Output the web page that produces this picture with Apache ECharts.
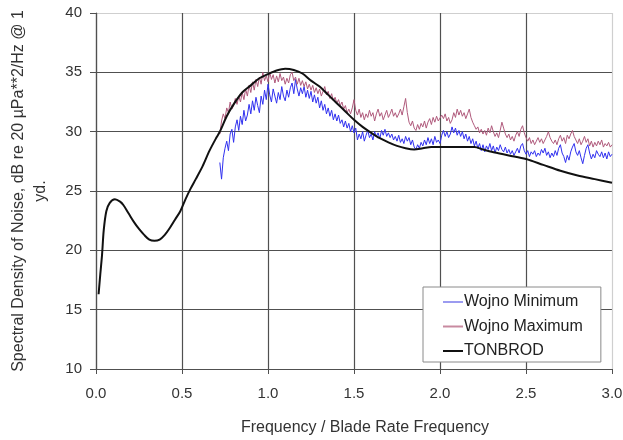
<!DOCTYPE html>
<html><head><meta charset="utf-8">
<script src="https://cdn.jsdelivr.net/npm/echarts@6/dist/echarts.min.js"></script>
<style>html,body{margin:0;padding:0;background:#fff}#c{width:623px;height:440px}</style>
</head><body><div id="c"></div>
<script>
// Wojno noise data: x from 0.72 to 3.00, step 0.01
const noiseStart = 0.72, noiseStep = 0.01;
const wojnoMin = [
27.4,26.0,27.8,28.6,29.2,28.4,29.8,30.2,29.1,30.4,
31.0,30.1,31.3,30.6,31.8,30.9,31.4,32.3,31.5,32.6,
31.8,32.9,32.2,31.6,33.0,32.3,33.5,32.7,34.0,33.1,
32.5,33.6,33.0,32.4,33.3,32.7,33.8,33.0,32.6,33.5,
32.9,33.7,34.1,33.2,34.4,33.6,33.0,33.7,33.2,33.8,
32.9,33.5,32.8,33.4,32.5,33.1,32.4,32.9,32.0,32.6,
31.8,32.3,31.5,32.0,31.3,31.8,31.0,31.5,30.9,31.4,
30.7,31.0,30.4,30.9,30.3,30.7,30.0,30.5,29.9,30.3,
29.3,29.8,29.4,30.0,29.2,29.7,30.1,29.5,29.8,29.3,
30.0,29.6,29.9,29.4,30.1,29.7,30.2,29.6,29.9,29.5,
29.8,29.3,29.6,29.2,29.7,29.1,29.4,29.0,29.6,29.2,
29.5,28.9,29.3,28.7,28.5,28.9,28.6,29.1,28.8,29.3,
28.9,29.5,29.0,29.4,28.9,29.6,29.1,29.3,29.0,29.7,
30.1,29.6,30.0,29.5,29.8,30.4,29.9,30.3,29.7,30.1,
29.6,30.0,29.4,29.8,29.2,29.6,29.0,29.4,28.8,29.2,
28.6,29.0,28.4,28.9,28.3,28.8,28.5,29.0,28.4,28.8,
28.2,28.7,28.4,28.9,28.5,28.3,28.7,28.2,28.5,28.1,
28.4,28.0,28.3,28.6,28.2,28.8,29.0,28.4,28.1,28.4,
27.9,28.3,28.1,28.4,27.9,28.2,28.0,28.5,28.2,28.6,
28.0,28.3,27.8,28.2,27.9,28.4,28.0,28.6,28.9,28.2,
27.9,27.4,28.0,27.6,28.3,28.7,29.0,28.3,28.0,28.4,
27.8,27.3,28.0,28.6,28.9,28.2,27.7,28.1,27.8,28.4,
28.1,27.9,28.3,27.8,28.2,27.7,28.3,27.9,28.1];
const wojnoMax = [
29.8,30.9,31.5,31.1,32.0,31.6,32.5,31.9,32.2,32.8,
32.3,33.0,32.5,33.3,32.7,33.6,33.0,33.9,33.3,34.2,
33.5,34.4,33.8,34.6,34.0,35.0,34.3,34.7,34.2,35.0,
34.4,34.8,34.1,34.7,34.2,34.9,34.3,34.6,34.0,34.5,
34.1,34.8,35.0,34.3,34.6,34.0,34.5,33.9,34.3,33.8,
34.2,33.6,34.0,33.5,33.9,33.3,33.7,33.2,33.6,33.0,
33.4,33.8,33.1,33.4,32.8,33.2,32.6,32.9,32.4,32.7,
32.2,32.5,31.9,32.2,31.6,31.9,31.5,32.0,32.7,31.8,
31.4,31.9,31.2,31.6,31.0,31.5,31.2,31.8,31.3,31.6,
30.9,31.5,31.9,31.3,31.6,31.0,31.4,31.8,31.2,31.5,
31.9,31.3,31.6,31.2,31.5,31.9,31.4,32.1,32.8,31.6,
30.8,30.5,30.9,30.3,30.1,30.6,30.2,30.7,30.4,30.9,
30.3,30.8,31.1,30.6,31.2,30.8,31.3,30.9,31.0,31.4,
31.1,31.5,30.9,31.2,30.7,31.0,31.6,31.2,31.9,31.4,
31.8,31.3,31.6,31.1,31.5,31.9,31.2,30.8,30.5,30.2,
30.4,29.9,30.2,29.8,30.1,29.7,30.3,29.9,30.5,30.0,
29.6,29.9,29.5,30.1,30.8,30.3,29.8,29.5,29.8,29.3,
29.6,29.2,29.7,30.0,29.6,30.2,30.5,29.9,29.5,29.2,
29.5,29.0,29.3,28.9,29.2,29.5,29.1,29.4,29.0,29.3,
29.6,30.0,29.5,29.2,29.0,29.3,28.9,29.4,29.7,29.2,
29.5,29.0,29.7,29.4,29.8,30.1,29.6,29.3,29.0,29.4,
28.9,29.2,29.6,29.1,29.4,28.8,29.2,28.7,29.1,28.8,
29.2,28.9,29.3,28.7,29.0,28.8,29.1,28.7,28.9];
// TONBROD curve
const tonX = [0.015,0.025,0.035,0.045,0.06,0.08,0.11,0.14,0.16,0.19,0.22,0.25,0.28,0.31,0.34,0.37,0.40,0.43,0.46,0.49,
0.52,0.55,0.58,0.62,0.66,0.70,0.72,0.76,0.80,0.85,0.90,0.95,1.00,1.05,1.10,1.15,1.20,1.25,1.30,1.35,
1.40,1.45,1.50,1.55,1.60,1.65,1.70,1.75,1.80,1.85,1.90,1.95,2.00,2.10,2.20,2.25,2.30,2.40,2.50,2.60,
2.70,2.80,2.90,3.00];
const tonY = [16.3,18.0,19.6,21.7,23.3,24.0,24.3,24.1,23.8,23.1,22.4,21.8,21.3,20.9,20.8,20.9,21.3,21.9,22.6,23.3,
24.3,25.2,26.0,27.1,28.4,29.5,30.0,31.3,32.3,33.3,33.9,34.5,34.85,35.15,35.3,35.2,34.9,34.3,33.8,33.1,
32.4,31.7,31.0,30.4,29.9,29.45,29.1,28.8,28.6,28.5,28.6,28.7,28.7,28.7,28.7,28.5,28.3,28.0,27.7,27.2,
26.7,26.3,26.0,25.7];
const xTicks = [0,0.5,1.0,1.5,2.0,2.5,3.0];
const yTicks = [10,15,20,25,30,35,40];
const seriesNames = ['Wojno Minimum','Wojno Maximum','TONBROD'];

const pairsNoise = arr => arr.map((v,i)=>[+(noiseStart+i*noiseStep).toFixed(2), v]);
const tonData = tonX.map((x,i)=>[x,tonY[i]]);
const F = '"Liberation Sans", Arial, sans-serif';
const dark = '#505050', light = '#cfcfcf';

const chart = echarts.init(document.getElementById('c'), null, {renderer:'canvas'});
chart.setOption({
  animation:false,
  backgroundColor:'#fff',
  grid:{left:96, top:13, width:516, height:356, containLabel:false, outerBoundsMode:'none'},
  xAxis:{type:'value', min:0, max:3, interval:0.5,
    name:'Frequency / Blade Rate Frequency', nameLocation:'middle', nameGap:51,
    nameTextStyle:{fontFamily:F, fontSize:16, color:'#333', padding:[0,0,0,22]},
    axisLine:{show:true, lineStyle:{color:dark, width:1.2}},
    axisTick:{show:true, length:5, lineStyle:{color:dark}},
    axisLabel:{fontFamily:F, fontSize:15, color:'#333', margin:17, formatter:v=>v.toFixed(1)},
    splitLine:{show:true, lineStyle:{color:xTicks.map((t,i)=>i===xTicks.length-1?light:dark), width:1.2}}
  },
  yAxis:{type:'value', min:10, max:40, interval:5,
    name:'Spectral Density of Noise, dB re 20 µPa**2/Hz @ 1\nyd.', nameLocation:'middle', nameGap:44,
    nameTextStyle:{fontFamily:F, fontSize:16, color:'#333', lineHeight:22, align:'center'},
    axisLine:{show:true, lineStyle:{color:dark, width:1.2}},
    axisTick:{show:true, length:6, lineStyle:{color:dark}},
    axisLabel:{fontFamily:F, fontSize:15, color:'#333', margin:14},
    splitLine:{show:true, lineStyle:{color:yTicks.map((t,i)=>i===yTicks.length-1?light:dark), width:1.2}}
  },
  legend:{orient:'vertical', left:423, top:287,
    padding:[7,18,3,20], itemGap:8.5, itemWidth:20, itemHeight:2,
    backgroundColor:'#fff', borderColor:'#8a8a8a', borderWidth:1,
    textStyle:{fontFamily:F, fontSize:16, color:'#222', padding:[0,0,0,-4]},
    data:[{name:seriesNames[0], icon:'rect', itemStyle:{color:'#9b9bf0'}},
          {name:seriesNames[1], icon:'rect', itemStyle:{color:'#c88aa0'}},
          {name:seriesNames[2], icon:'rect', itemStyle:{color:'#111'}}]
  },
  series:[
    {name:seriesNames[0], type:'line', data:pairsNoise(wojnoMin), showSymbol:false, symbol:'none',
      lineStyle:{color:'#3030f0', width:1}, itemStyle:{color:'#3030f0'}},
    {name:seriesNames[1], type:'line', data:pairsNoise(wojnoMax), showSymbol:false, symbol:'none',
      lineStyle:{color:'#b05a7c', width:1}, itemStyle:{color:'#b05a7c'}},
    {name:seriesNames[2], type:'line', data:tonData, showSymbol:false, symbol:'none', smooth:0.3,
      lineStyle:{color:'#111', width:2}, itemStyle:{color:'#111'}, z:5}
  ]
});
</script></body></html>
